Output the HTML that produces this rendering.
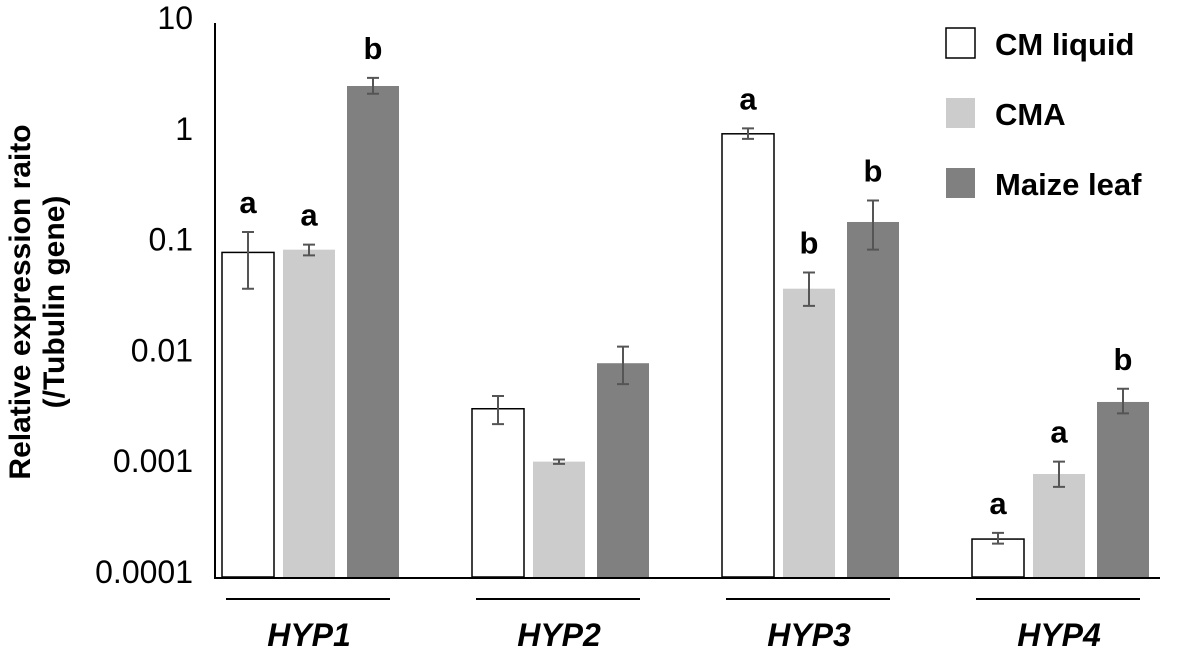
<!DOCTYPE html>
<html><head><meta charset="utf-8"><style>
body{margin:0;background:#fff;}
svg{display:block;font-family:"Liberation Sans",Arial,sans-serif;}
</style></head><body>
<svg id="c" width="1181" height="653" viewBox="0 0 1181 653">
<g id="g"></g>
</svg>
<script>
const genes=["HYP1","HYP2","HYP3","HYP4"];
const series=["CM liquid","CMA","Maize leaf"];
const cmLiquid=[0.085,0.0033,1.0,0.00022];
const cma=[0.09,0.0011,0.04,0.00085];
const maize=[2.7,0.0085,0.16,0.0038];
const cmLiquidHi=[0.13,0.0043,1.12,0.00025];
const cmaHi=[0.1,0.00115,0.056,0.0011];
const maizeHi=[3.2,0.012,0.25,0.005];
const cmLiquidLo=[0.04,0.0024,0.9,0.0002];
const cmaLo=[0.08,0.00105,0.028,0.00065];
const maizeLo=[2.3,0.0055,0.09,0.003];
const letters=[["a","a","b"],["","",""],["a","b","b"],["a","a","b"]];
const ticks=[10,1,0.1,0.01,0.001,0.0001];
const tickLabels=["10","1","0.1","0.01","0.001","0.0001"];

const NS="http://www.w3.org/2000/svg";
const g=document.getElementById('g');
const y0=23,dec=110.8;
function y(v){return y0+(1-Math.log10(v))*dec;}
const yb=y(0.0001);
function el(t,a,p){const e=document.createElementNS(NS,t);for(const k in a)e.setAttribute(k,a[k]);(p||g).appendChild(e);return e;}
function xg(i){return 222+i*250;}
const vals=[cmLiquid,cma,maize],his=[cmLiquidHi,cmaHi,maizeHi],los=[cmLiquidLo,cmaLo,maizeLo];
const fills=["#fff","#cccccc","#808080"],offs=[0,61,125],W=52;
let ax=el('line',{x1:215,y1:y0,x2:215,y2:yb+1,stroke:'#000','stroke-width':2});


let xa=el('line',{x1:214,y1:yb+1,x2:1160,y2:yb+1,stroke:'#000','stroke-width':2});


ticks.forEach((t,i)=>{
 const tx=el('text',{x:193,y:y(t)+6,'text-anchor':'end','font-size':32,fill:'#000'});
 tx.textContent=tickLabels[i];
 
 
});
genes.forEach((gn,i)=>{
 for(let s=0;s<3;s++){
  const x=xg(i)+offs[s],v=vals[s][i];
  const r=el('rect',{x:x,y:y(v),width:W,height:yb-y(v),fill:fills[s],stroke:s==0?'#000':'none','stroke-width':1.5});
  
  
  const cx=x+W/2,h=y(his[s][i]),l=y(los[s][i]);
  const e=el('path',{d:`M${cx} ${h}V${l}M${cx-6} ${h}H${cx+6}M${cx-6} ${l}H${cx+6}`,stroke:'#555','stroke-width':2,fill:'none'});
  
  
  if(letters[i][s]){
   const lt=el('text',{x:cx,y:h-19,'text-anchor':'middle','font-size':31,'font-weight':'bold'});
   lt.textContent=letters[i][s];
   
   
  }
 }
 const u=el('line',{x1:xg(i)+4,y1:599,x2:xg(i)+168,y2:599,stroke:'#000','stroke-width':2});
 
 
 const gl=el('text',{x:xg(i)+87,y:646,'text-anchor':'middle','font-size':32,'font-weight':'bold','font-style':'italic'});
 gl.textContent=gn;
 
 
});
series.forEach((s,i)=>{
 const r=el('rect',{x:946,y:28+i*70,width:29,height:30,fill:fills[i],stroke:i==0?'#000':'none','stroke-width':1.5});
 
 
 const t=el('text',{x:995,y:55+i*70,'font-size':31,'font-weight':'bold'});
 t.textContent=s;
 
 
});
const yt=el('text',{transform:'translate(30,302) rotate(-90)','text-anchor':'middle','font-size':30,'font-weight':'bold'});
yt.textContent='Relative expression raito';


const yt2=el('text',{transform:'translate(64,302) rotate(-90)','text-anchor':'middle','font-size':30,'font-weight':'bold'});
yt2.textContent='(/Tubulin gene)';


</script>
</body></html>
